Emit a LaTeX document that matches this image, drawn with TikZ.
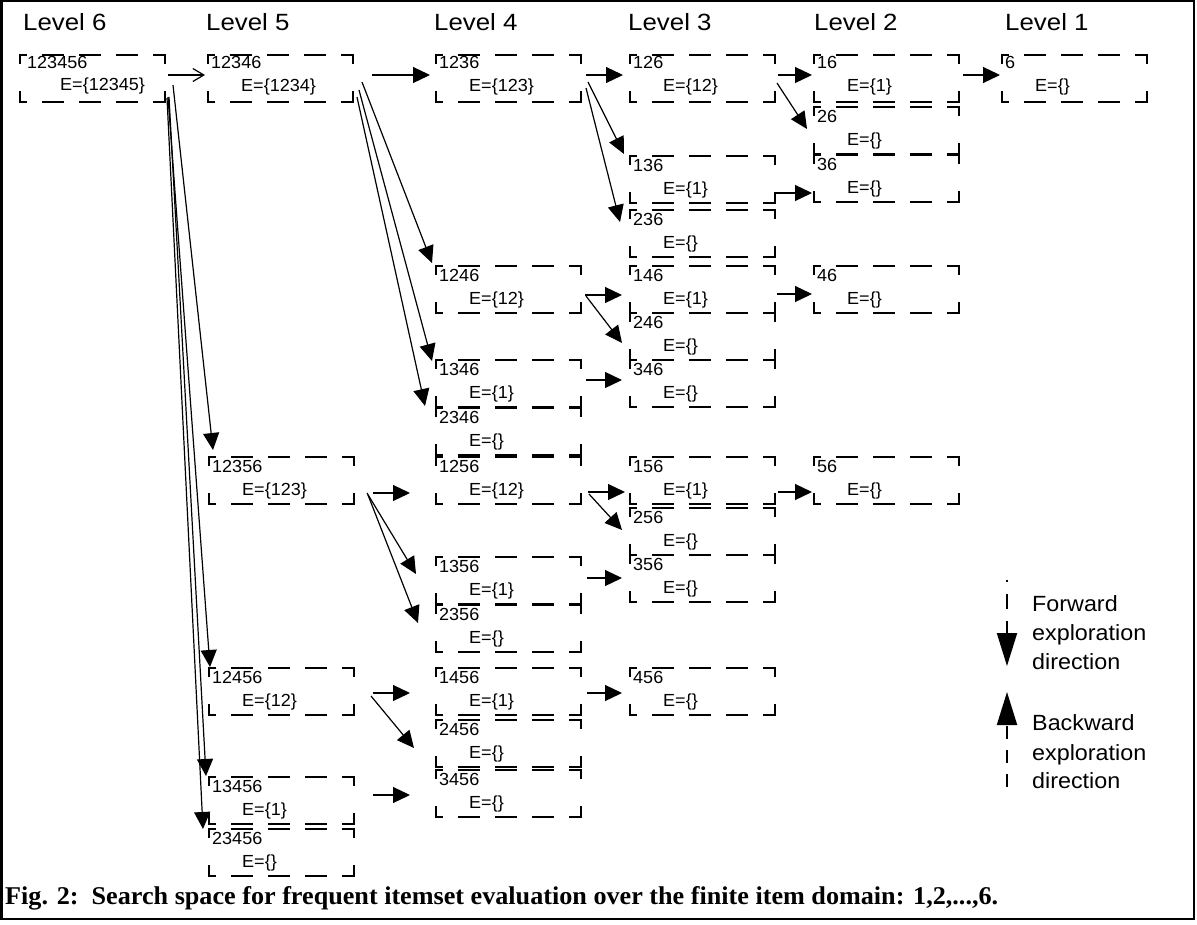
\documentclass[tikz,border=0pt]{standalone}
\usepackage{fontspec}
\setmainfont{Liberation Sans}
\newfontfamily\boxfont[FakeStretch=1.03]{Liberation Sans}
\newfontfamily\lvlfont[FakeStretch=1.1]{Liberation Sans}
\newfontfamily\legfont[FakeStretch=1.06]{Liberation Sans}
\newfontfamily\capfont{Liberation Serif}
\usetikzlibrary{arrows.meta,calc}
\tikzset{
  ibox/.style={rectangle, draw=none, minimum width=145pt, minimum height=47pt, inner sep=0pt, outer sep=0pt, anchor=north west},
  hd/.style={line width=2pt, line cap=rect, dash pattern=on 20pt off 17pt, dash phase=14pt},
  vd/.style={line width=2pt, line cap=rect, dash pattern=on 8pt off 29pt on 30pt off 10pt},
  itxt/.style={inner sep=0pt, anchor=base west, font=\boxfont\fontsize{17.5}{20}\selectfont},
  lvl/.style={inner sep=0pt, anchor=base west, font=\lvlfont\fontsize{23.5}{27}\selectfont},
  legt/.style={inner sep=0pt, anchor=base west, font=\legfont\fontsize{22}{27}\selectfont},
  arr/.style={line width=1.2pt, -{Triangle[length=17pt,width=16pt]}},
  oarr/.style={line width=1.2pt, -{Straight Barb[length=11pt,width=13pt]}},
  legf/.style={line width=2pt, dash pattern=on 15pt off 12pt, dash phase=13pt, -{Triangle[length=33pt,width=20pt]}},
  legb/.style={line width=2pt, dash pattern=on 13pt off 11pt, -{Triangle[length=33pt,width=20pt]}},
}
\newcommand{\sides}[1]{%
  \draw[hd] (#1.north west) -- (#1.north east);
  \draw[hd] (#1.south west) -- (#1.south east);
  \draw[vd] (#1.north west) -- (#1.south west);
  \draw[vd] (#1.north east) -- (#1.south east);
}
\newcommand{\ibox}[6][15]{%
  \node[ibox] (#2) at (#3,#4) {};
  \sides{#2}
  \node[itxt] (#2n) at ($(#2.north west)+(3,#1)$) {#5};
  \node[itxt] (#2e) at ($(#2.north west)+(33,#1+23)$) {E=\{#6\}};
}
\begin{document}
\begin{tikzpicture}[x=1pt,y=-1pt]
\useasboundingbox (0,0) rectangle (1197,924);
\draw[line width=2.5pt] (1.5,1.2) rectangle (1194,919);

% level labels
\node[lvl] (L6) at (23,30) {Level 6};
\node[lvl] (L5) at (206,30) {Level 5};
\node[lvl] (L4) at (434,30) {Level 4};
\node[lvl] (L3) at (628,30) {Level 3};
\node[lvl] (L2) at (814,30) {Level 2};
\node[lvl] (L1) at (1005,30) {Level 1};

% level 6
\node[ibox] (n123456) at (20,55) {};
\sides{n123456}
\node[itxt] (n123456n) at ($(n123456.north west)+(7,13)$) {123456};
\node[itxt] (n123456e) at ($(n123456.north west)+(40,35)$) {E=\{12345\}};

% top row
\ibox[13]{n12346}{208}{55}{12346}{1234}
\ibox[13]{n1236}{436}{55}{1236}{123}
\ibox[13]{n126}{630}{55}{126}{12}
\ibox[13]{n16}{814}{55}{16}{1}
\ibox[13]{n6}{1002}{55}{6}{}

% level 5
\ibox{n12356}{209}{457}{12356}{123}
\ibox{n12456}{209}{668}{12456}{12}
\ibox{n13456}{209}{777}{13456}{1}
\ibox{n23456}{209}{829}{23456}{}

% level 4
\ibox{n1246}{436}{266}{1246}{12}
\ibox{n1346}{436}{360}{1346}{1}
\ibox{n2346}{436}{408}{2346}{}
\ibox{n1256}{436}{457}{1256}{12}
\ibox{n1356}{436}{557}{1356}{1}
\ibox{n2356}{436}{605}{2356}{}
\ibox{n1456}{436}{668}{1456}{1}
\ibox{n2456}{436}{720}{2456}{}
\ibox{n3456}{436}{770}{3456}{}

% level 3
\ibox{n136}{630}{156}{136}{1}
\ibox{n236}{630}{210}{236}{}
\ibox{n146}{630}{266}{146}{1}
\ibox{n246}{630}{313}{246}{}
\ibox{n346}{630}{360}{346}{}
\ibox{n156}{630}{457}{156}{1}
\ibox{n256}{630}{508}{256}{}
\ibox{n356}{630}{555}{356}{}
\ibox{n456}{630}{668}{456}{}

% level 2
\ibox{n26}{814}{107}{26}{}
\ibox{n36}{814}{155}{36}{}
\ibox{n46}{814}{266}{46}{}
\ibox{n56}{814}{457}{56}{}

% connectors from 123456
\draw[oarr] ($(n123456.north east)+(3,20)$) -- ($(n12346.north west)+(-3,20)$);
\draw[arr] ($(n123456.north east)+(8,30)$) -- ($(n12356.north west)+(4,-7)$);
\draw[arr] ($(n123456.north east)+(3,42)$) -- ($(n12456.north west)+(1,-1)$);
\draw[arr] ($(n123456.north east)+(4,42)$) -- ($(n13456.north west)+(-3,-1)$);
\draw[arr] ($(n123456.north east)+(2,43)$) -- ($(n23456.north west)+(-6,0)$);

% from 12346
\draw[arr] ($(n12346.north east)+(19,20)$) -- ($(n1236.north west)+(-6,20)$);
\draw[arr] ($(n12346.north east)+(9,27)$) -- ($(n1246.north west)+(-4,-3)$);
\draw[arr] ($(n12346.north east)+(6,35)$) -- ($(n1346.north west)+(-4,1)$);
\draw[arr] ($(n12346.north east)+(4,42)$) -- ($(n2346.north west)+(-11,-2)$);

% from 1236
\draw[arr] ($(n1236.north east)+(5,20)$) -- ($(n126.north west)+(-7,20)$);
\draw[arr] ($(n1236.north east)+(7,27)$) -- ($(n136.north west)+(-6,-2)$);
\draw[arr] ($(n1236.north east)+(5,33)$) -- ($(n236.north west)+(-10,12)$);

% from 126, 16
\draw[arr] ($(n126.north east)+(3,20)$) -- ($(n16.north west)+(-2,20)$);
\draw[arr] ($(n126.north east)+(2,28)$) -- ($(n26.north west)+(-7,22)$);
\draw[arr] ($(n16.north east)+(4,20)$) -- ($(n6.north west)+(-2,20)$);

% from 136
\draw[arr] ($(n136.north east)+(1,37)$) -- ($(n36.north west)+(-2,38)$);

% from 1246, 146
\draw[arr] ($(n1246.north east)+(4,29)$) -- ($(n146.north west)+(-8,29)$);
\draw[arr] ($(n1246.north east)+(5,30)$) -- ($(n246.north west)+(-8,30)$);
\draw[arr] ($(n146.north east)+(2,28)$) -- ($(n46.north west)+(-2,28)$);

% from 1346
\draw[arr] ($(n1346.north east)+(5,20)$) -- ($(n346.north west)+(-8,20)$);

% from 12356
\draw[arr] ($(n12356.north east)+(19,36)$) -- ($(n1256.north west)+(-26,36)$);
\draw[arr] ($(n12356.north east)+(13,36)$) -- ($(n1356.north west)+(-20,17)$);
\draw[arr] ($(n12356.north east)+(14,38)$) -- ($(n2356.north west)+(-18,18)$);

% from 1256, 156
\draw[arr] ($(n1256.north east)+(7,35)$) -- ($(n156.north west)+(-5,35)$);
\draw[arr] ($(n1256.north east)+(8,37)$) -- ($(n256.north west)+(-8,22)$);
\draw[arr] ($(n156.north east)+(3,35)$) -- ($(n56.north west)+(-2,35)$);

% from 1356
\draw[arr] ($(n1356.north east)+(6,21)$) -- ($(n356.north west)+(-8,23)$);

% from 12456, 1456, 13456
\draw[arr] ($(n12456.north east)+(19,25)$) -- ($(n1456.north west)+(-26,25)$);
\draw[arr] ($(n12456.north east)+(17,28)$) -- ($(n2456.north west)+(-22,28)$);
\draw[arr] ($(n1456.north east)+(6,25)$) -- ($(n456.north west)+(-8,25)$);
\draw[arr] ($(n13456.north east)+(19,18)$) -- ($(n3456.north west)+(-26,25)$);

% legend
\coordinate (f1) at (1007,580);
\coordinate (f2) at (1007,666);
\draw[legf] (f1) -- (f2);
\coordinate (g1) at (1007,787);
\coordinate (g2) at (1007,692);
\draw[legb] (g1) -- (g2);
\node[legt] (fw1) at (1032,611) {Forward};
\node[legt] (fw2) at (1032,640) {exploration};
\node[legt] (fw3) at (1032,669) {direction};
\node[legt] (bw1) at (1032,730) {Backward};
\node[legt] (bw2) at (1032,760) {exploration};
\node[legt] (bw3) at (1032,788) {direction};

% caption
\node[inner sep=0pt, anchor=base west] (cap) at (5,904) {\resizebox{993pt}{18pt}{\capfont\bfseries Fig. 2:\ \ Search space for frequent itemset evaluation over the finite item domain: 1,2,...,6.}};
\end{tikzpicture}
\end{document}
